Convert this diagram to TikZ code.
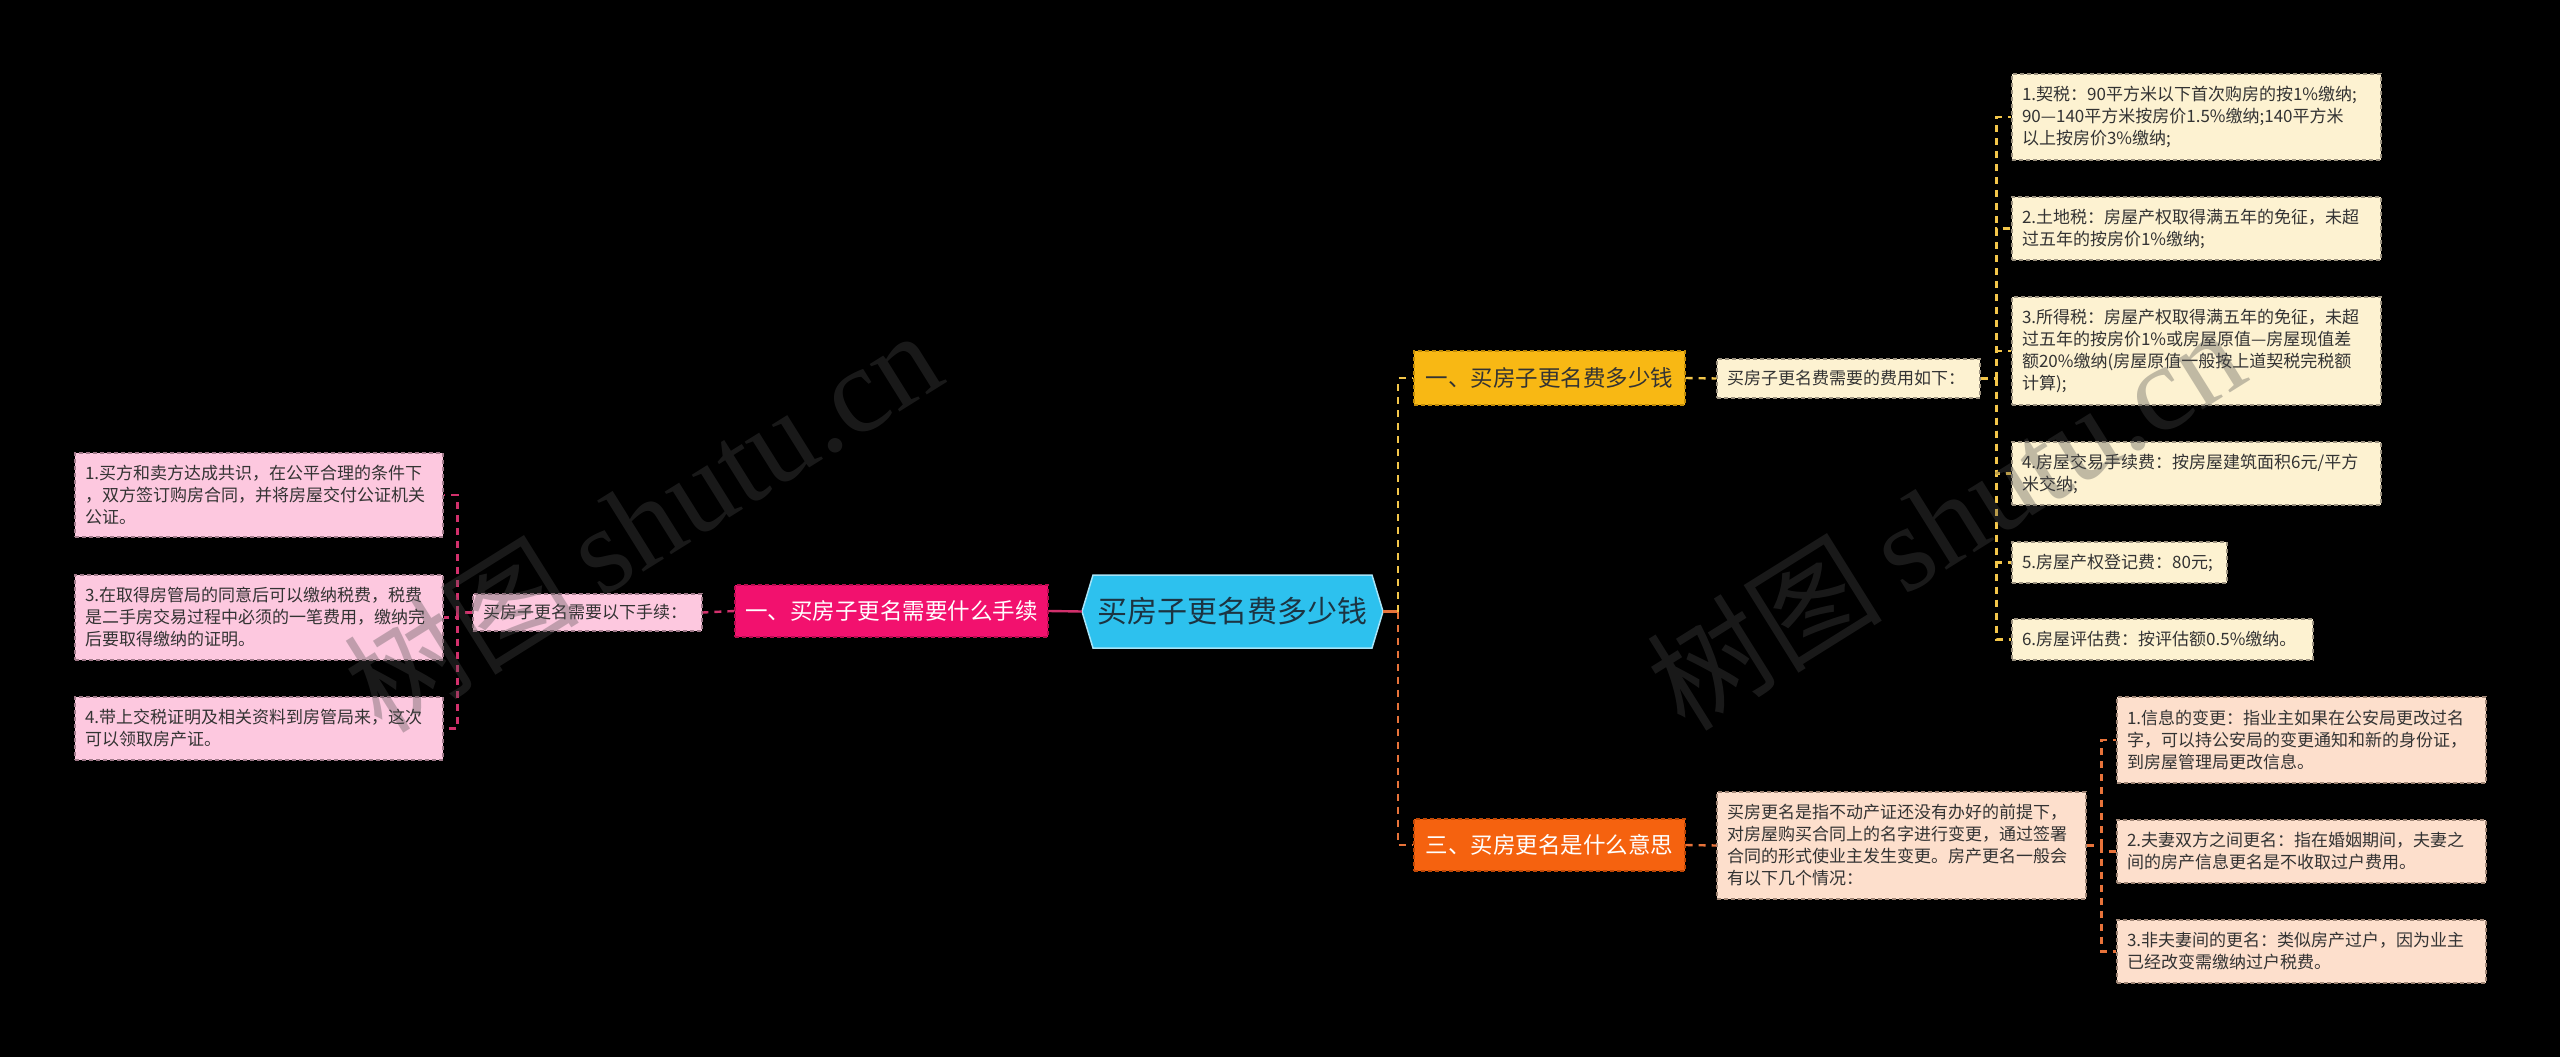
\documentclass[tikz,border=0pt]{standalone}
\usepackage{fontspec}
\setmainfont{Noto Sans CJK SC}
\newfontfamily\wmserif{Liberation Serif}
\usetikzlibrary{calc}
\definecolor{pinkfill}{HTML}{FDC8DF}
\definecolor{pinkedge}{HTML}{A07A8A}
\definecolor{creamfill}{HTML}{FDF2D1}
\definecolor{creamedge}{HTML}{9C9280}
\definecolor{peachfill}{HTML}{FDDFCC}
\definecolor{peachedge}{HTML}{A08676}
\definecolor{magfill}{HTML}{F2116E}
\definecolor{magedge}{HTML}{B80D50}
\definecolor{yelfill}{HTML}{F8B814}
\definecolor{yeledge}{HTML}{C28C08}
\definecolor{orgfill}{HTML}{F5620F}
\definecolor{orgedge}{HTML}{C04806}
\definecolor{cfill}{HTML}{2DC1EE}
\definecolor{cedge}{HTML}{A6E4F8}
\definecolor{ctext}{HTML}{1C3442}
\definecolor{leaftext}{HTML}{333333}
\definecolor{lcol}{HTML}{D2306C}
\definecolor{ycol}{HTML}{F3C64A}
\definecolor{ocol}{HTML}{E8733A}
\definecolor{wmcol}{HTML}{4C4C4C}
\tikzset{
  box/.style={rectangle, inner xsep=10pt, inner ysep=0pt, align=left,
    font=\fontsize{17}{22}\selectfont, dash pattern=on 4pt off 3pt, line width=1.2pt},
  pinkleaf/.style={box, fill=pinkfill, draw=pinkedge, text=leaftext},
  creamleaf/.style={box, fill=creamfill, draw=creamedge, text=leaftext},
  peachleaf/.style={box, fill=peachfill, draw=peachedge, text=leaftext},
  branch/.style={rectangle, inner sep=0pt, minimum width=271pt, minimum height=53pt,
    font=\fontsize{22.5}{26}\selectfont, dash pattern=on 4pt off 3pt, line width=1.2pt},
  conn/.style={line width=2.4pt, dash pattern=on 7pt off 6pt},
  lconn/.style={conn, draw=lcol},
  yconn/.style={conn, draw=ycol},
  oconn/.style={conn, draw=ocol},
  wm/.style={text=wmcol, text opacity=0.34, inner sep=0pt}
}
\newcommand{\wmtext}{{\fontsize{118}{118}\selectfont 树图}\hspace{22pt}{\wmserif\fontsize{122}{122}\selectfont shutu.cn}}
\begin{document}
\begin{tikzpicture}[x=1pt,y=-1pt]
\useasboundingbox[fill=black] (0,0) rectangle (2560,1057);

% centre
\fill[cfill, draw=cedge, line width=1.5pt] (1082,611.5) -- (1093,575) -- (1372,575) -- (1383,611.5) -- (1372,648) -- (1093,648) -- cycle;
\node[inner sep=0pt, minimum width=301pt, minimum height=73pt, text=ctext,
  font=\fontsize{30}{36}\selectfont] (c) at (1232.5,611.5) {买房子更名费多少钱};

% left branch
\node[branch, fill=magfill, draw=magedge, text=white, minimum width=313pt, minimum height=52pt] (m) at (891.5,611) {一、买房子更名需要什么手续};
\node[pinkleaf, text width=209pt, minimum height=37pt] (ms) at (587.5,612.5) {买房子更名需要以下手续：};
\node[pinkleaf, text width=348pt, minimum height=84pt] (l1) at (259,495) {1.买方和卖方达成共识，在公平合理的条件下\\，双方签订购房合同，并将房屋交付公证机关\\公证。};
\node[pinkleaf, text width=348pt, minimum height=85pt] (l3) at (259,617.5) {3.在取得房管局的同意后可以缴纳税费，税费\\是二手房交易过程中必须的一笔费用，缴纳完\\后要取得缴纳的证明。};
\node[pinkleaf, text width=348pt, minimum height=63pt] (l4) at (259,728.5) {4.带上交税证明及相关资料到房管局来，这次\\可以领取房产证。};

% right top branch
\node[branch, fill=yelfill, draw=yeledge, text=leaftext, minimum height=54pt] (y) at (1549.5,378) {一、买房子更名费多少钱};
\node[creamleaf, text width=243pt, minimum height=39pt] (yd) at (1848.5,378.5) {买房子更名费需要的费用如下：};
\node[creamleaf, text width=349pt, minimum height=86pt] (r1) at (2196.5,117) {1.契税：90平方米以下首次购房的按1\%缴纳;\\90—140平方米按房价1.5\%缴纳;140平方米\\以上按房价3\%缴纳;};
\node[creamleaf, text width=349pt, minimum height=63pt] (r2) at (2196.5,228.5) {2.土地税：房屋产权取得满五年的免征，未超\\过五年的按房价1\%缴纳;};
\node[creamleaf, text width=349pt, minimum height=108pt] (r3) at (2196.5,351) {3.所得税：房屋产权取得满五年的免征，未超\\过五年的按房价1\%或房屋原值—房屋现值差\\额20\%缴纳(房屋原值一般按上道契税完税额\\计算);};
\node[creamleaf, text width=349pt, minimum height=63pt] (r4) at (2196.5,473.5) {4.房屋交易手续费：按房屋建筑面积6元/平方\\米交纳;};
\node[creamleaf, text width=195pt, minimum height=41pt] (r5) at (2119.5,562.5) {5.房屋产权登记费：80元;};
\node[creamleaf, text width=281pt, minimum height=41pt] (r6) at (2162.5,639.5) {6.房屋评估费：按评估额0.5\%缴纳。};

% right bottom branch
\node[branch, fill=orgfill, draw=orgedge, text=white, minimum height=52pt] (o) at (1549.5,845) {三、买房更名是什么意思};
\node[peachleaf, text width=349pt, minimum height=107pt] (od) at (1901.5,845.5) {买房更名是指不动产证还没有办好的前提下，\\对房屋购买合同上的名字进行变更，通过签署\\合同的形式使业主发生变更。房产更名一般会\\有以下几个情况：};
\node[peachleaf, text width=349pt, minimum height=86pt] (p1) at (2301.5,740) {1.信息的变更：指业主如果在公安局更改过名\\字，可以持公安局的变更通知和新的身份证，\\到房屋管理局更改信息。};
\node[peachleaf, text width=349pt, minimum height=63pt] (p2) at (2301.5,851.5) {2.夫妻双方之间更名：指在婚姻期间，夫妻之\\间的房产信息更名是不收取过户费用。};
\node[peachleaf, text width=349pt, minimum height=63pt] (p3) at (2301.5,951.5) {3.非夫妻间的更名：类似房产过户，因为业主\\已经改变需缴纳过户税费。};

% connectors left
\draw[lcol, line width=2.4pt] (c.west) -- (m.east);
\draw[lconn] (m.west) -- (ms.east);
\draw[lconn] (ms.west) -- ++(-15,0) coordinate (lj);
\draw[lconn] (lj) |- (l1.east);
\draw[lconn] (lj) |- (l3.east);
\draw[lconn] (lj) |- (l4.east);

% connectors right
\draw[ocol, line width=2.4pt] (c.east) -- ++(15,0) coordinate (rj);
\draw[yconn] (rj) |- (y.west);
\draw[oconn] (rj) |- (o.west);
\draw[yconn] (y.east) -- (yd.west);
\draw[yconn] (yd.east) -- ++(16,0) coordinate (yj);
\foreach \n in {r1,r2,r3,r4,r5,r6} \draw[yconn] (yj) |- (\n.west);
\draw[oconn] (o.east) -- (od.west);
\draw[oconn] (od.east) -- ++(15,0) coordinate (oj);
\foreach \n in {p1,p2,p3} \draw[oconn] (oj) |- (\n.west);

% watermarks
\node[wm, rotate=32] (w1) at (642,520) {\wmtext};
\node[wm, rotate=32] (w2) at (1945,518) {\wmtext};
\end{tikzpicture}
\end{document}
